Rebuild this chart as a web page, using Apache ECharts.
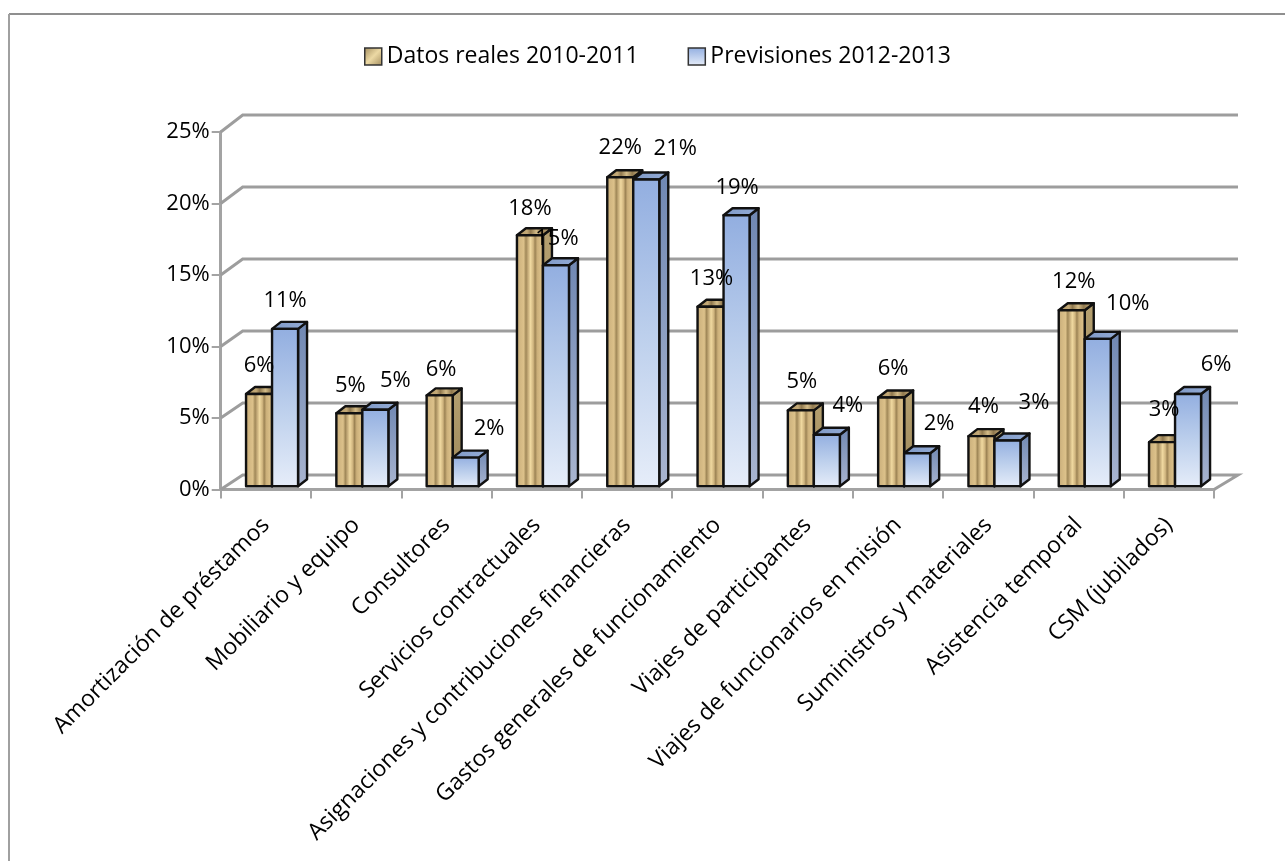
<!DOCTYPE html>
<html><head><meta charset="utf-8">
<style>html,body{margin:0;padding:0;background:#fff}#c{width:1285px;height:861px}</style>
<script src="https://cdn.jsdelivr.net/npm/echarts@6/dist/echarts.min.js"></script>
</head><body><div id="c"></div>
<script>
const categories = ['Amortización de préstamos','Mobiliario y equipo','Consultores','Servicios contractuales','Asignaciones y contribuciones financieras','Gastos generales de funcionamiento','Viajes de participantes','Viajes de funcionarios en misión','Suministros y materiales','Asistencia temporal','CSM (jubilados)'];
const seriesNames = ['Datos reales 2010-2011','Previsiones 2012-2013'];
const reales = [6.45,5.1,6.35,17.55,21.6,12.55,5.3,6.2,3.5,12.3,3.08];
const previsiones = [11.0,5.35,2.0,15.45,21.45,18.95,3.6,2.3,3.2,10.3,6.45];
const yTicks = [0,5,10,15,20,25];
// label nudges (px) from the top centre of each bar
const realesLabelDx = [0,1,1.5,0,0,1,1,2,2,2,2];
const realesLabelDy = [-28,-28,-26,-27,-30,-28,-29,-29,-29,-29,-32];
const previsionesLabelDx = [0,20,23.5,1,29,0.5,21,22,26.5,30,28];
const previsionesLabelDy = [-28,-29,-29,-27,-30.5,-27,-29,-30,-38,-35,-29];

const FONT = '"Open Sans"';
const lg = (x2,y2,stops)=>new echarts.graphic.LinearGradient(0,0,x2,y2,stops.map((c)=>({offset:c[0],color:c[1]})));
const goldStops = [[0,'#b2966a'],[.12,'#d0b580'],[.28,'#dcc18a'],[.36,'#a08858'],[.42,'#c0a674'],[.52,'#f0d9a0'],[.62,'#cfb47e'],[.68,'#9c8354'],[.76,'#ccb07a'],[.88,'#d9be87'],[1,'#b09565']];
const goldTopStops = [[0,'#a8905f'],[.3,'#c4aa78'],[.4,'#8f784e'],[.55,'#d4bc88'],[.7,'#8f784e'],[.85,'#c0a674'],[1,'#a08858']];
const palette = [
  {front:()=>lg(1,0,goldStops), side:()=>lg(0,1,[[0,'#b5a070'],[1,'#9c8759']]), top:()=>lg(1,0,goldTopStops)},
  {front:()=>lg(0,1,[[0,'#92aee0'],[.5,'#bccfec'],[1,'#e6edf9']]), side:()=>lg(0,1,[[0,'#6f87b2'],[1,'#a9b5d0']]), top:()=>lg(1,0,[[0,'#7f99c6'],[1,'#94acd6']])}
];
const DEPTH_X = 9, DEPTH_Y = 7, FLOOR_DX = 6.2, FLOOR_DY = 3.3;

function barRenderer(seriesIndex, slot, dxs, dys){
  return function(params, api){
    const i = api.value(0), v = api.value(1);
    const zero = api.coord([i,0]), top = api.coord([i,v]);
    const w = api.size([1,0])[0]*0.288;
    const xc = zero[0] + FLOOR_DX + slot*w;
    const x0 = xc - w/2, x1 = xc + w/2;
    const yb = zero[1] - FLOOR_DY, yt = top[1] - FLOOR_DY;
    const p = palette[seriesIndex];
    const stroke = {stroke:'#111', lineWidth:2.4, lineJoin:'round'};
    return {type:'group', children:[
      {type:'polygon', shape:{points:[[x1,yb],[x1+DEPTH_X,yb-DEPTH_Y],[x1+DEPTH_X,yt-DEPTH_Y],[x1,yt]]}, style:Object.assign({fill:p.side()},stroke)},
      {type:'polygon', shape:{points:[[x0,yt],[x0+DEPTH_X,yt-DEPTH_Y],[x1+DEPTH_X,yt-DEPTH_Y],[x1,yt]]}, style:Object.assign({fill:p.top()},stroke)},
      {type:'rect', shape:{x:x0,y:yt,width:w,height:yb-yt}, style:Object.assign({fill:p.front()},stroke)},
      {type:'text', z2:100, style:{text:Math.round(v)+'%', x:xc+dxs[params.dataIndex], y:yt+dys[params.dataIndex], align:'center', verticalAlign:'middle', fill:'#000', font:'22px '+FONT}}
    ]};
  };
}
function wallRenderer(params, api){
  const v = api.value(1);
  const cs = params.coordSys;
  const y = api.coord([0,v])[1];
  const by = y - (14.5 + 2.5*v/25);
  const x = cs.x, xr = cs.x + cs.width;
  const children = [{type:'polyline', shape:{points:[[x,y],[x+22,by],[xr+24,by]].concat(v===0?[[xr,y]]:[])}, style:{stroke:'#9d9d9d', lineWidth:3, fill:null}}];
  return {type:'group', children};
}
const chart = echarts.init(document.getElementById('c'), null, {renderer:'canvas'});
const axisLine = {show:true, lineStyle:{color:'#a3a3a3', width:3}};
chart.setOption({
  animation:false,
  backgroundColor:'#fff',
  textStyle:{fontFamily:FONT},
  graphic:[
    {type:'line', shape:{x1:9,y1:14,x2:1285,y2:14}, style:{stroke:'#8f8f8f', lineWidth:2}, silent:true},
    {type:'line', shape:{x1:9,y1:14,x2:9,y2:861}, style:{stroke:'#a0a0a0', lineWidth:2}, silent:true}
  ],
  legend:{
    left:359, top:40, itemWidth:17, itemHeight:17, itemGap:49, icon:'rect',
    textStyle:{fontFamily:FONT, fontSize:23, color:'#000', padding:[0,0,0,0]},
    data:[
      {name:seriesNames[0], itemStyle:{color:lg(1,1,[[0,'#a08a5c'],[.5,'#ecd9a4'],[1,'#a08a5c']]), borderColor:'#333', borderWidth:1.5}},
      {name:seriesNames[1], itemStyle:{color:lg(0,1,[[0,'#92aee0'],[1,'#e6edf9']]), borderColor:'#333', borderWidth:1.5}}
    ]
  },
  grid:{left:220.7, right:1285-1214, top:132, bottom:861-489.5, containLabel:false},
  xAxis:{type:'category', data:categories, boundaryGap:true,
    axisLine:axisLine, axisTick:{show:true, length:9, alignWithLabel:false, lineStyle:{color:'#a3a3a3', width:2}},
    axisLabel:{interval:0, rotate:45, margin:32, fontFamily:FONT, fontSize:23, color:'#000'}},
  yAxis:{type:'value', min:0, max:25, interval:5,
    axisLine:axisLine, splitLine:{show:false},
    axisTick:{show:true, length:9, lineStyle:{color:'#a3a3a3', width:2}},
    axisLabel:{margin:11, formatter:'{value}%', fontFamily:FONT, fontSize:22, color:'#000'}},
  series:[
    {type:'custom', name:'walls', silent:true, z:1, clip:false, data:yTicks.map(v=>[0,v]), encode:{x:0,y:1}, renderItem:wallRenderer},
    {type:'custom', name:seriesNames[0], z:3, clip:false, itemStyle:{color:'#d8bf8a'}, data:reales.map((v,i)=>[i,v]), encode:{x:0,y:1}, renderItem:barRenderer(0,-0.5,realesLabelDx,realesLabelDy)},
    {type:'custom', name:seriesNames[1], z:3, clip:false, itemStyle:{color:'#a9c0e6'}, data:previsiones.map((v,i)=>[i,v]), encode:{x:0,y:1}, renderItem:barRenderer(1,0.5,previsionesLabelDx,previsionesLabelDy)}
  ]
});
</script></body></html>
